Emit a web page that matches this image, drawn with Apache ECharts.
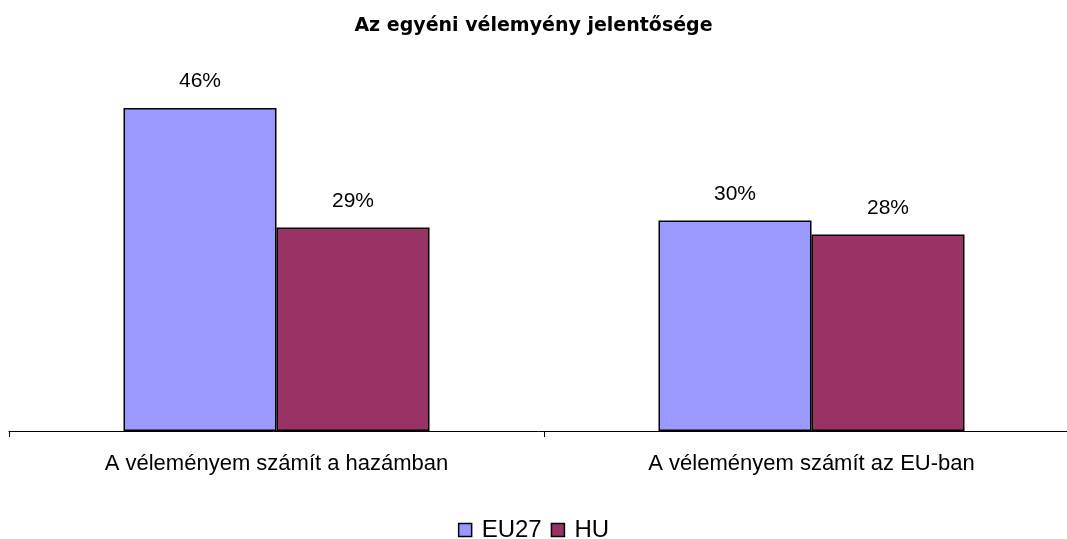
<!DOCTYPE html>
<html lang="hu">
<head>
    <meta charset="UTF-8">
    <title>Az egyéni vélemény jelentősége</title>
    <script src="https://cdn.jsdelivr.net/npm/echarts@6/dist/echarts.min.js"></script>
</head>
<body style="margin:0">
<div id="chart" style="width:1067px;height:539px"></div>
<script>
    var categories = ['A véleményem számít a hazámban', 'A véleményem számít az EU-ban'];
    var seriesNames = ['EU27', 'HU'];
    var eu27 = [46, 30];
    var hu = [29, 28];
    var colors = ['#9999FF', '#993366'];

    var myChart = echarts.init(document.getElementById('chart'));

    function barSeries(name, data, color) {
        return {
            name: name,
            type: 'bar',
            barWidth: 153,
            barGap: '0%',
            itemStyle: {
                color: color,
                borderColor: '#000',
                borderWidth: 1.5
            },
            label: {
                show: true,
                position: 'top',
                distance: 16,
                formatter: '{c}%',
                fontFamily: 'Liberation Sans, Arial',
                fontSize: 21,
                color: '#000'
            },
            data: data
        };
    }

    var option = {
        backgroundColor: '#fff',
        animation: false,
        title: {
            text: 'Az egyéni vélemyény jelentősége',
            left: 'center',
            top: 12,
            textStyle: {
                fontFamily: 'DejaVu Sans',
                fontWeight: 'bold',
                fontSize: 19,
                color: '#000'
            }
        },
        legend: {
            top: 513,
            left: 'center',
            itemWidth: 13,
            itemHeight: 13,
            itemGap: 9,
            icon: 'rect',
            itemStyle: { borderColor: '#000', borderWidth: 1.5 },
            textStyle: {
                fontFamily: 'Liberation Sans, Arial',
                fontSize: 24,
                color: '#000',
                padding: [0, 0, 0, 5]
            },
            data: seriesNames
        },
        grid: {
            left: 9,
            width: 1070,
            top: 80,
            height: 351,
            containLabel: false,
            outerBoundsMode: 'none'
        },
        xAxis: {
            type: 'category',
            data: categories,
            axisLine: { lineStyle: { color: '#000', width: 1 } },
            axisTick: { show: true, length: 6, lineStyle: { color: '#000' } },
            axisLabel: {
                margin: 22,
                fontFamily: 'Liberation Sans, Arial',
                fontSize: 22,
                color: '#000'
            }
        },
        yAxis: {
            type: 'value',
            min: 0,
            max: 50,
            show: false,
            splitLine: { show: false }
        },
        series: [
            barSeries(seriesNames[0], eu27, colors[0]),
            barSeries(seriesNames[1], hu, colors[1])
        ]
    };

    myChart.setOption(option);
</script>
</body>
</html>
